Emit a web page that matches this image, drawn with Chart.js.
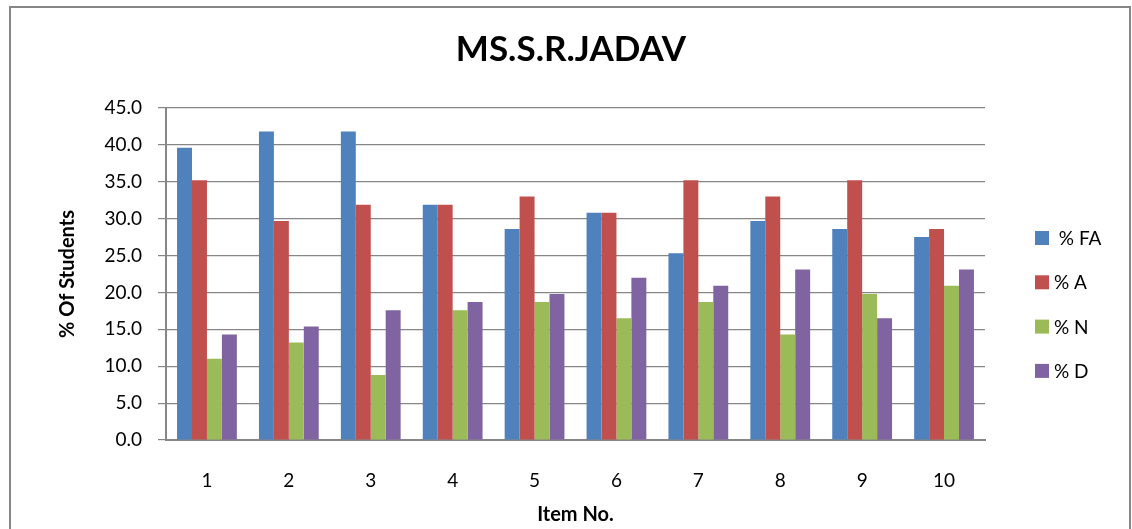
<!DOCTYPE html>
<html>
<head>
<meta charset="utf-8">
<script src="https://cdn.jsdelivr.net/npm/chart.js@4"></script>
<style>
  html, body { margin: 0; padding: 0; background: #ffffff; }
  #wrap { width: 1132px; height: 529px; }
</style>
</head>
<body>
<div id="wrap"><canvas id="chart" width="1132" height="529"></canvas></div>
<script>
// Chart values

const items = ["1", "2", "3", "4", "5", "6", "7", "8", "9", "10"];
const seriesLabels = [" % FA", "% A", "% N", "% D"];
const seriesColors = ["#4F81BD", "#C0504D", "#9BBB59", "#8064A2"];

const pctFA = [39.6, 41.8, 41.8, 31.9, 28.6, 30.8, 25.3, 29.7, 28.6, 27.5];
const pctA = [35.2, 29.7, 31.9, 31.9, 33.0, 30.8, 35.2, 33.0, 35.2, 28.6];
const pctN = [11.0, 13.2, 8.8, 17.6, 18.7, 16.5, 18.7, 14.3, 19.8, 20.9];
const pctD = [14.3, 15.4, 17.6, 18.7, 19.8, 22.0, 20.9, 23.1, 16.5, 23.1];

const seriesValues = [pctFA, pctA, pctN, pctD];

const gridColor = "#868686";
const fontFamily = "Lato, 'Liberation Sans', sans-serif";

// outer frame around the whole chart
const framePlugin = {
  id: "frame",
  beforeDraw(chart) {
    const ctx = chart.ctx;
    ctx.save();
    ctx.fillStyle = "#ffffff";
    ctx.fillRect(0, 0, chart.width, chart.height);
    ctx.strokeStyle = gridColor;
    ctx.lineWidth = 2;
    ctx.strokeRect(10, 7, 1120, 540);
    ctx.restore();
  },
};

// legend on the right, one item per dataset
const sideLegend = {
  id: "sideLegend",
  afterDraw(chart) {
    const ctx = chart.ctx;
    ctx.save();
    ctx.font = "19px " + fontFamily;
    ctx.textBaseline = "middle";
    chart.data.datasets.forEach((ds, i) => {
      const y = 238 + i * 44.3;
      ctx.fillStyle = ds.backgroundColor;
      ctx.fillRect(1035, y - 7, 14, 14);
      ctx.fillStyle = "#000000";
      ctx.fillText(ds.label, 1054, y + 1);
    });
    ctx.restore();
  },
};

const datasets = seriesLabels.map((label, i) => ({
  label: label,
  data: seriesValues[i],
  backgroundColor: seriesColors[i],
  borderWidth: 0,
  categoryPercentage: 0.73,
  barPercentage: 1.0,
  yAxisID: "y",
}));

new Chart(document.getElementById("chart"), {
  type: "bar",
  data: {
    labels: items,
    datasets: datasets,
  },
  plugins: [framePlugin, sideLegend],
  options: {
    responsive: false,
    animation: false,
    layout: {
      padding: { left: 10, right: 0, top: 0, bottom: 2 },
    },
    plugins: {
      legend: { display: false },
      tooltip: { enabled: false },
      title: {
        display: true,
        text: "MS.S.R.JADAV",
        color: "#000000",
        font: { family: fontFamily, size: 35, weight: "bold" },
        padding: { top: 29, bottom: 37 },
      },
    },
    scales: {
      x: {
        grid: { display: false, drawTicks: false },
        border: { display: true, color: gridColor, width: 2 },
        ticks: {
          color: "#000000",
          font: { family: fontFamily, size: 19 },
          padding: 29,
        },
        title: {
          display: true,
          text: "Item No.",
          color: "#000000",
          font: { family: fontFamily, size: 20, weight: "bold" },
          padding: { top: 0, bottom: 0 },
        },
        afterFit: (scale) => {
          scale.height = 87;
        },
      },
      y: {
        min: 0,
        max: 45,
        grid: {
          color: gridColor,
          lineWidth: 1.2,
          drawTicks: true,
          tickLength: 8,
        },
        border: { display: true, color: gridColor, width: 2 },
        ticks: {
          stepSize: 5,
          color: "#000000",
          font: { family: fontFamily, size: 19 },
          padding: 16,
          callback: (v) => Number(v).toFixed(1),
        },
        title: {
          display: true,
          text: "% Of Students",
          color: "#000000",
          font: { family: fontFamily, size: 20, weight: "bold" },
          padding: { top: 46, bottom: 0 },
        },
        afterFit: (scale) => {
          scale.width = 156;
        },
      },
      // empty strip on the right that leaves room for the legend
      legendSpace: {
        type: "linear",
        position: "right",
        display: true,
        grid: { display: false, drawTicks: false },
        border: { display: false },
        ticks: { display: false },
        afterFit: (scale) => {
          scale.width = 147;
        },
      },
    },
  },
});
</script>
</body>
</html>
